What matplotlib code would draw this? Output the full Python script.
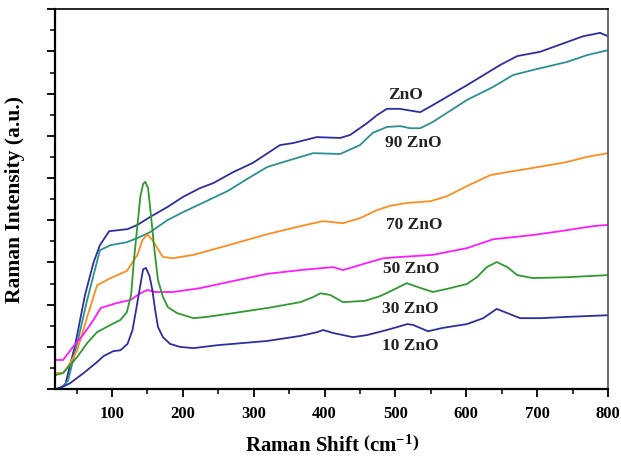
import numpy as np
import matplotlib
matplotlib.use("Agg")
import matplotlib.pyplot as plt
from matplotlib.ticker import MultipleLocator

plt.rcParams['font.family'] = ['Liberation Serif', 'DejaVu Serif']
plt.rcParams['mathtext.fontset'] = 'custom'
plt.rcParams['mathtext.rm'] = 'Liberation Serif:bold'
plt.rcParams['mathtext.bf'] = 'Liberation Serif:bold'

# Raman shift (cm^-1) / intensity (a.u.)
zno_x = [23, 34, 48, 62, 74, 83, 96, 122, 136, 154, 178, 200, 224, 243, 271, 299, 337, 356,
         389, 422, 436, 460, 474, 488, 506, 535, 553, 601, 648, 672, 704, 742, 765, 789, 800]
zno_y = [0.0, 0.1, 1.04, 2.23, 3.0, 3.41, 3.74, 3.79, 3.89, 4.08, 4.31, 4.55, 4.76, 4.88, 5.14,
         5.36, 5.78, 5.83, 5.97, 5.95, 6.02, 6.30, 6.49, 6.64, 6.64, 6.56, 6.73, 7.20, 7.68, 7.89,
         7.99, 8.22, 8.36, 8.44, 8.36]

zno90_x = [27, 38, 52, 65, 83, 98, 121, 136, 154, 178, 200, 224, 263, 291, 319, 342, 384, 422,
           450, 468, 488, 507, 521, 535, 553, 601, 638, 666, 694, 742, 770, 800]
zno90_y = [0.0, 0.2, 1.16, 2.11, 3.29, 3.41, 3.48, 3.58, 3.72, 4.0, 4.19, 4.38, 4.69, 4.98, 5.26,
           5.38, 5.59, 5.57, 5.78, 6.07, 6.21, 6.23, 6.18, 6.18, 6.33, 6.85, 7.16, 7.44, 7.56,
           7.75, 7.91, 8.03]

zno70_x = [20, 31, 41, 51, 65, 79, 98, 121, 136, 143, 150, 157, 164, 172, 186, 215, 271, 319,
           366, 398, 426, 450, 474, 492, 516, 549, 573, 601, 634, 658, 694, 742, 770, 800]
zno70_y = [0.38, 0.38, 0.62, 0.92, 1.71, 2.46, 2.63, 2.80, 3.18, 3.53, 3.67, 3.53, 3.34, 3.13,
           3.10, 3.18, 3.44, 3.67, 3.86, 3.98, 3.93, 4.05, 4.24, 4.34, 4.41, 4.45, 4.57, 4.81,
           5.07, 5.14, 5.24, 5.38, 5.50, 5.59]

zno50_x = [20, 31, 45, 60, 74, 84, 107, 126, 140, 150, 161, 186, 224, 271, 319, 366, 412, 426,
           460, 483, 507, 553, 601, 638, 694, 732, 779, 800]
zno50_y = [0.69, 0.69, 1.0, 1.30, 1.64, 1.92, 2.04, 2.11, 2.27, 2.35, 2.30, 2.30, 2.39, 2.56,
           2.73, 2.82, 2.89, 2.82, 2.99, 3.10, 3.13, 3.18, 3.34, 3.55, 3.65, 3.74, 3.86, 3.89]

zno30_x = [20, 31, 51, 65, 79, 98, 112, 121, 127, 131, 136, 140, 144, 147, 151, 155, 160, 165,
           172, 179, 192, 215, 234, 271, 319, 366, 384, 394, 408, 426, 457, 478, 497, 516, 531,
           553, 577, 601, 615, 629, 643, 658, 672, 694, 742, 800]
zno30_y = [0.33, 0.38, 0.76, 1.09, 1.35, 1.52, 1.64, 1.82, 2.23, 3.06, 3.89, 4.55, 4.86, 4.91,
           4.76, 4.12, 3.29, 2.58, 2.18, 1.94, 1.80, 1.68, 1.71, 1.80, 1.92, 2.06, 2.18, 2.27,
           2.23, 2.06, 2.09, 2.20, 2.35, 2.51, 2.42, 2.30, 2.39, 2.49, 2.65, 2.89, 3.01, 2.89,
           2.70, 2.63, 2.65, 2.70]

zno10_x = [20, 30, 41, 60, 79, 88, 102, 112, 122, 129, 134, 140, 144, 148, 153, 157, 161, 165,
           172, 182, 196, 215, 249, 319, 366, 390, 398, 412, 440, 460, 488, 517, 525, 546, 567,
           601, 624, 643, 658, 676, 704, 742, 800]
zno10_y = [0.0, 0.05, 0.14, 0.38, 0.64, 0.78, 0.90, 0.92, 1.07, 1.40, 1.87, 2.46, 2.84, 2.87,
           2.68, 2.35, 1.87, 1.47, 1.23, 1.07, 1.00, 0.97, 1.04, 1.14, 1.26, 1.35, 1.40, 1.33,
           1.23, 1.28, 1.40, 1.54, 1.52, 1.37, 1.45, 1.54, 1.68, 1.90, 1.80, 1.68, 1.68, 1.71,
           1.75]

labels = ["ZnO", "90 ZnO", "70 ZnO", "50 ZnO", "30 ZnO", "10 ZnO"]
label_x = [515, 526, 526, 522, 521, 521]
label_y = [6.97, 5.83, 3.89, 2.84, 1.90, 1.02]

fig = plt.figure(figsize=(6.21, 4.61), dpi=100)
ax = fig.add_axes([0.089, 0.156, 0.890, 0.824])

ax.plot(zno_x, zno_y, color='#2e2ea0', lw=1.3)
ax.plot(zno90_x, zno90_y, color='#2b9090', lw=1.3)
ax.plot(zno70_x, zno70_y, color='#ff8c1e', lw=1.3)
ax.plot(zno50_x, zno50_y, color='#ff1aff', lw=1.3)
ax.plot(zno30_x, zno30_y, color='#2f9a2f', lw=1.3)
ax.plot(zno10_x, zno10_y, color='#2e2ea0', lw=1.3)

for t, x, y in zip(labels, label_x, label_y):
    ax.text(x, y, t, ha='center', va='center', fontsize=12.5, fontweight='bold', color='#222222')

ax.set_xlim(20, 800)
ax.set_ylim(0, 9)
ax.xaxis.set_major_locator(MultipleLocator(100))
ax.xaxis.set_minor_locator(MultipleLocator(50))
ax.yaxis.set_major_locator(MultipleLocator(1))
ax.yaxis.set_minor_locator(MultipleLocator(0.5))
ax.set_yticklabels([])
ax.tick_params(which='major', direction='out', length=6, width=1.3, labelsize=12)
ax.tick_params(axis='x', which='major', pad=6)
ax.tick_params(which='minor', direction='out', length=3.5, width=1.1)
for lab in ax.get_xticklabels():
    lab.set_fontweight('bold')

ax.spines['left'].set_linewidth(1.6)
ax.spines['bottom'].set_linewidth(1.6)
ax.spines['top'].set_linewidth(1.2)
ax.spines['right'].set_linewidth(1.2)
ax.spines['right'].set_color('#555555')

ax.set_xlabel(r'Raman Shift $\left(\mathbf{cm^{-1}}\right)$', fontsize=15, fontweight='bold', labelpad=10)
ax.set_ylabel('Raman Intensity (a.u.)', fontsize=15.5, fontweight='bold', labelpad=12)

fig.savefig('out.png', dpi=100)
